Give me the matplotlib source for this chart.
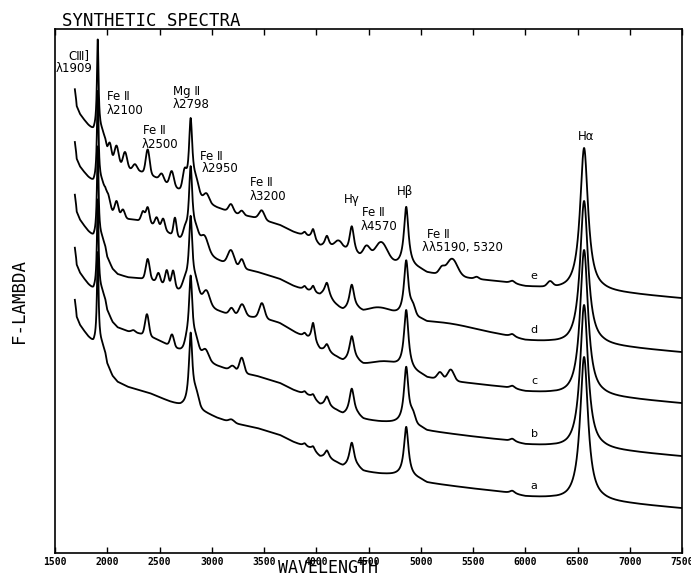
import numpy as np
import matplotlib
matplotlib.use("Agg")
import matplotlib.pyplot as plt

# continuum of spectrum a (arbitrary F-lambda units)
cont_wl = [1690, 1700, 1708, 1739, 1771, 1819, 1867, 1909, 1950, 1980, 2000, 2050, 2100,
           2200, 2400, 2600, 2700, 2800, 2916, 3050, 3200, 3430, 3650, 3780, 3870, 3940,
           3970, 4036, 4102, 4198, 4255, 4340, 4400, 4450, 4610, 4725, 4861, 5000, 5060,
           5440, 5760, 6000, 6250, 6400, 6563, 6750, 7000, 7500]
cont_flux = [253, 245, 236, 228, 223, 216, 210, 212, 208, 200, 189, 177, 171,
             166, 160, 151, 147, 146, 141, 135, 130, 125, 118, 111, 107, 104,
             102, 95.5, 94, 89.5, 85.5, 85, 84, 81, 79, 78, 77, 73, 70,
             65, 61, 56, 54, 52, 51, 51, 49, 44.6]

# main emission lines: CIII], MgII, H8, He, Hd, Hg, Hb, HeI, Ha
line_wl = [1909, 2798, 3889, 3970, 4102, 4340, 4861, 5876, 6563]
line_hwhm = [9, 20, 20, 20, 25, 28, 26, 30, 46]
heights = {
    "a": [90, 73, 3, 4, 8, 25, 49, 3, 145],
    "b": [90, 76, 3, 4, 10, 27, 57, 3, 145],
    "c": [90, 77, 4, 20, 8, 26, 59, 3, 147],
    "d": [90, 76, 4, 7, 13, 26, 56, 3, 145],
    "e": [90, 75, 4, 11, 12, 31, 59, 3, 144],
}

# red shoulder of MgII, present in every spectrum (center, height, sigma)
common_bumps = [(2850, 12, 25)]

# Fe II blends per spectrum (center, height, sigma)
feii = {
    "a": [(3190, 3, 25)],
    "b": [(2400, 5, 250), (2250, 2, 18), (2380, 21, 18), (2620, 12, 18), (2760, 6, 18),
          (2940, 10, 30), (3200, 5, 25), (3287, 15, 22), (4925, 8, 22)],
    "c": [(2550, 10, 280), (2387, 20, 18), (2490, 9, 16), (2570, 15, 16), (2630, 17, 16),
          (2745, 9, 25), (2950, 13, 30), (3190, 7, 22), (3290, 12, 28), (3480, 15, 25),
          (3600, 7, 250), (4650, 7, 130), (5184, 7, 25), (5287, 11, 30)],
    "d": [(2400, 14, 350), (2007, 8, 16), (2090, 14, 17), (2150, 8, 17), (2342, 10, 17),
          (2387, 15, 16), (2473, 9, 17), (2535, 11, 17), (2648, 18, 14), (2745, 8, 18),
          (2930, 15, 35), (3184, 15, 30), (3287, 9, 20), (4080, 7, 60), (4600, 9, 120),
          (4925, 8, 22), (5250, 6, 300)],
    "e": [(2350, 9, 280), (2026, 12, 15), (2090, 19, 20), (2170, 16, 20), (2265, 6, 20),
          (2387, 24, 18), (2521, 7, 20), (2617, 15, 20), (2740, 17, 18), (2950, 8, 25),
          (3184, 8, 22), (3287, 4, 18), (3478, 9, 25), (4220, 12, 45), (4480, 14, 35),
          (4620, 21, 60), (5200, 6, 25), (5300, 17, 50), (5535, 2, 20), (6237, 5, 25)],
}

names = ["a", "b", "c", "d", "e"]
offsets = [0, 52, 105, 156, 210]

xticks = list(range(1500, 7501, 500))


def lorentz(x, c, h, w):
    return h * w ** 2 / ((x - c) ** 2 + w ** 2)


def gauss(x, c, h, s):
    return h * np.exp(-0.5 * ((x - c) / s) ** 2)


def spectrum(wl, name, off):
    f = np.interp(wl, cont_wl, cont_flux) + off
    for c, w, h in zip(line_wl, line_hwhm, heights[name]):
        f = f + lorentz(wl, c, h, w)
    for c, h, s in common_bumps + feii[name]:
        f = f + gauss(wl, c, h, s)
    return f


fig = plt.figure(figsize=(6.91, 5.78), dpi=100)
ax = fig.add_axes([55 / 691, 1 - 553 / 578, 627 / 691, 524 / 578])

wl = np.arange(cont_wl[0], 7501, 2.0)
for name, off in zip(names, offsets):
    flux = spectrum(wl, name, off)
    ax.plot(wl, flux, color="black", lw=1.3, solid_joinstyle="round")
    # curve label sits just above the spectrum near 6080 A
    y_lab = np.interp(6084, wl, flux) + 10
    ax.text(6084, y_lab, name, ha="center", va="center", fontsize=8)

ax.set_xlim(1500, 7500)
ax.set_ylim(0, 524)
ax.set_yticks([])
ax.set_xticks(xticks)
ax.set_xticklabels([str(t) for t in xticks], fontfamily="DejaVu Sans Mono",
                   fontweight="bold", fontsize=7)
ax.tick_params(axis="x", direction="in", top=True, length=4, width=1, pad=3)
for sp in ax.spines.values():
    sp.set_linewidth(1.2)

# line identifications
txt = dict(fontsize=8.5, color="black")
ax.text(1730, 497, "CⅢ]", ha="center", va="center", **txt)
ax.text(1682, 484, "λ1909", ha="center", va="center", **txt)
ax.text(1998, 457, "Fe Ⅱ", ha="left", va="center", **txt)
ax.text(1998, 443, "λ2100", ha="left", va="center", **txt)
ax.text(2629, 462, "Mg Ⅱ", ha="left", va="center", **txt)
ax.text(2629, 448, "λ2798", ha="left", va="center", **txt)
ax.text(2342, 422, "Fe Ⅱ", ha="left", va="center", **txt)
ax.text(2333, 409, "λ2500", ha="left", va="center", **txt)
ax.text(2888, 397, "Fe Ⅱ", ha="left", va="center", **txt)
ax.text(2907, 384, "λ2950", ha="left", va="center", **txt)
ax.text(3366, 370, "Fe Ⅱ", ha="left", va="center", **txt)
ax.text(3366, 357, "λ3200", ha="left", va="center", **txt)
ax.text(4342, 353, "Hγ", ha="center", va="center", **txt)
ax.text(4438, 341, "Fe Ⅱ", ha="left", va="center", **txt)
ax.text(4428, 327, "λ4570", ha="left", va="center", **txt)
ax.text(4849, 361, "Hβ", ha="center", va="center", **txt)
ax.text(5060, 319, "Fe Ⅱ", ha="left", va="center", **txt)
ax.text(5012, 306, "λλ5190, 5320", ha="left", va="center", **txt)
ax.text(6581, 417, "Hα", ha="center", va="center", **txt)

mono = dict(fontfamily="DejaVu Sans Mono", fontsize=12.5)
fig.text(62 / 691, 1 - 26 / 578, "SYNTHETIC SPECTRA", ha="left", va="baseline", **mono)
fig.text(19 / 691, 1 - 301 / 578, "F-LAMBDA", rotation=90, ha="center", va="center", **mono)
fig.text(328 / 691, 1 - 577 / 578, "WAVELENGTH", ha="center", va="bottom",
         fontfamily="DejaVu Sans Mono", fontsize=12)

fig.savefig("out.png", dpi=100)
plt.close(fig)
